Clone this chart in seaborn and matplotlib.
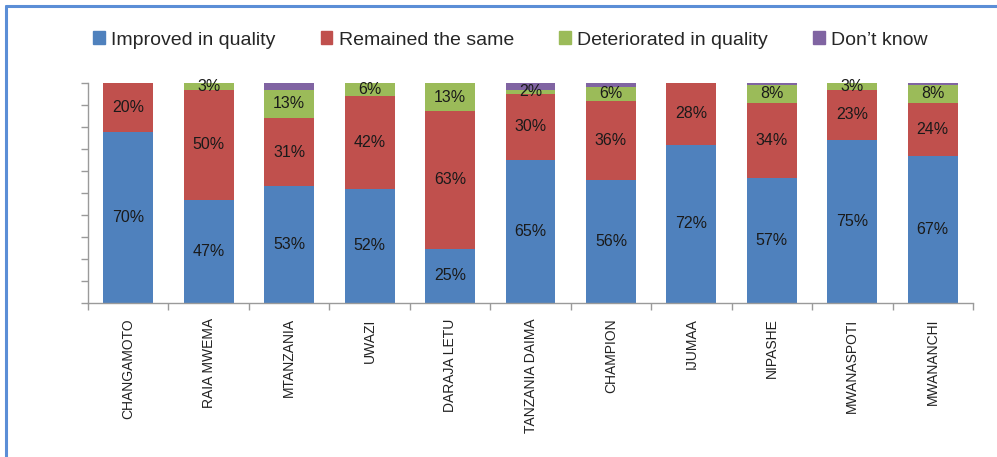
import matplotlib
matplotlib.use("Agg")
import matplotlib.pyplot as plt
import seaborn as sns
import numpy as np
import pandas as pd
from matplotlib.lines import Line2D

categories = ["CHANGAMOTO", "RAIA MWEMA", "MTANZANIA", "UWAZI", "DARAJA LETU",
              "TANZANIA DAIMA", "CHAMPION", "IJUMAA", "NIPASHE", "MWANASPOTI", "MWANANCHI"]
improved = [70, 47, 53, 52, 25, 65, 56, 72, 57, 75, 67]
remained = [20, 50, 31, 42, 63, 30, 36, 28, 34, 23, 24]
deteriorated = [0, 3, 13, 6, 13, 2, 6, 0, 8, 3, 8]
dont_know = [0, 0, 3, 0, 0, 3, 2, 0, 1, 0, 1]

series_names = ["Improved in quality", "Remained the same", "Deteriorated in quality", "Don\u2019t know"]
colors = ["#4F81BD", "#C0504D", "#9BBB59", "#8064A2"]

sns.set_theme(style="white")
plt.rcParams['font.family'] = ['Liberation Sans', 'DejaVu Sans']

vals = np.array([improved, remained, deteriorated, dont_know], dtype=float)
totals = vals.sum(axis=0)
frac = vals / totals
cum = np.cumsum(frac, axis=0)

fig = plt.figure(figsize=(9.97, 4.57), dpi=100)
ax = fig.add_axes([88/997, 1 - 303/457, (973-88)/997, (303-83)/457])

# draw cumulative bars, tallest first so shorter ones overlay
for i in range(3, -1, -1):
    df = pd.DataFrame({"cat": categories, "val": cum[i]})
    sns.barplot(data=df, x="cat", y="val", order=categories, color=colors[i],
                saturation=1, width=0.62, ax=ax, edgecolor="none", linewidth=0)

# data labels
for j in range(len(categories)):
    for i in range(3):
        if vals[i, j] > 0:
            lower = cum[i-1, j] if i > 0 else 0.0
            mid = (lower + cum[i, j]) / 2
            ax.text(j, mid, f"{int(vals[i, j])}%", ha="center", va="center",
                    fontsize=11.5, color="#1a1a1a")

ax.set_xlim(-0.5, len(categories) - 0.5)
ax.set_ylim(0, 1)
ax.set_xlabel("")
ax.set_ylabel("")
ax.set_yticks(np.arange(0, 1.01, 0.1))
ax.set_yticklabels([])
ax.tick_params(axis="y", which="major", left=True, length=5, width=1, color="#9a9a9a", direction="out")
ax.set_xticks(range(len(categories)))
ax.set_xticklabels(categories, rotation=90, fontsize=10, color="#222222")
ax.set_xticks(np.arange(-0.5, len(categories), 1.0), minor=True)
ax.tick_params(axis="x", which="major", length=0, pad=11)
ax.tick_params(axis="x", which="minor", bottom=True, length=5, width=1, color="#9a9a9a", direction="out")
for s in ["top", "right"]:
    ax.spines[s].set_visible(False)
for s in ["left", "bottom"]:
    ax.spines[s].set_color("#9a9a9a")
    ax.spines[s].set_linewidth(1)
ax.grid(False)
ax.set_facecolor("white")

handles = [plt.Rectangle((0, 0), 1, 1, color=c) for c in colors]
fig.legend(handles, series_names, loc="center", bbox_to_anchor=(0.512, 1 - 40/457),
           ncol=4, frameon=False, fontsize=14, handlelength=0.6, handleheight=0.6,
           handletextpad=0.35, columnspacing=2.3)

# outer frame (left and top edges visible)
fig.add_artist(Line2D([6/997, 6/997], [0, 1 - 6/457], transform=fig.transFigure,
                      color="#5B8ED6", linewidth=2.2))
fig.add_artist(Line2D([6/997, 1], [1 - 6/457, 1 - 6/457], transform=fig.transFigure,
                      color="#5B8ED6", linewidth=2.2))

fig.savefig("out.png", dpi=100, facecolor="white")
